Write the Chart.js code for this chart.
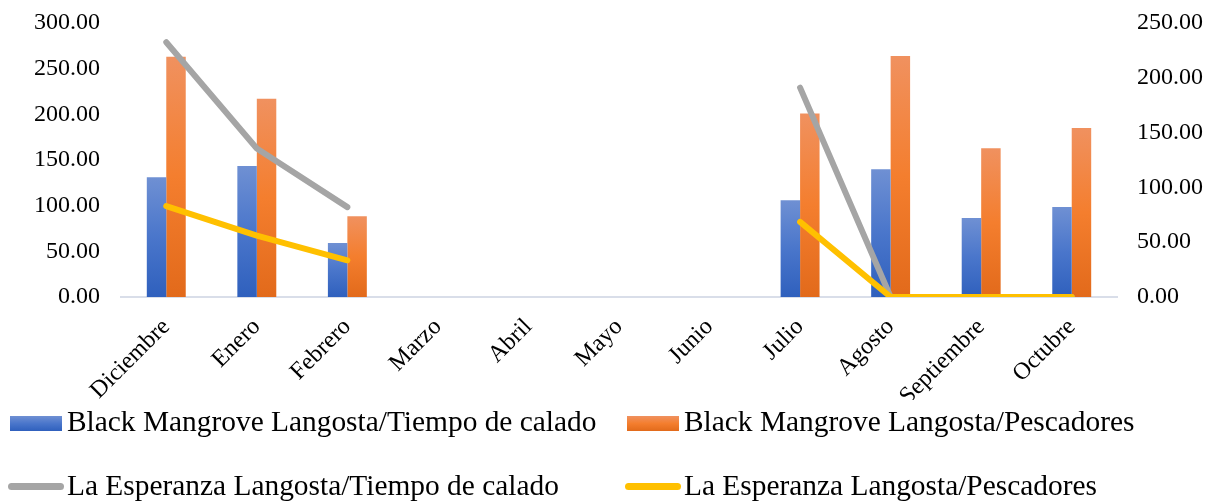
<!DOCTYPE html>
<html>
<head>
<meta charset="utf-8">
<script src="https://cdn.jsdelivr.net/npm/chart.js@4.4.0/dist/chart.umd.min.js"></script>
<style>
  html, body { margin: 0; padding: 0; background: #fff; }
  #wrap { position: relative; width: 1211px; height: 504px; }
  #chart { position: absolute; left: 0; top: 0; }
  .lg { position: absolute; font-family: "Liberation Serif", "Times New Roman", serif;
        font-size: 29.4px; line-height: 29px; color: #000; white-space: nowrap; }
  .sw { position: absolute; }
</style>
</head>
<body>
<div id="wrap">
  <canvas id="chart" width="1211" height="504"></canvas>
  <div id="legend"></div>
</div>
<script>
// categorias (meses)
const months = ['Diciembre', 'Enero', 'Febrero', 'Marzo', 'Abril', 'Mayo', 'Junio',
                'Julio', 'Agosto', 'Septiembre', 'Octubre'];

// series
const bmTiempo     = [131, 143.5, 59, null, null, null, null, 106, 140, 86.5, 98.5];
const bmPescadores = [263, 217, 88.5, null, null, null, null, 201, 264, 163, 185];
const leTiempo     = [232.5, 135.5, 82, null, null, null, null, 191, 0, 0, 0];
const lePescadores = [83, 56, 33.5, null, null, null, null, 68.5, 0, 0, 0];

const seriesNames = [
  'Black Mangrove Langosta/Tiempo de calado',
  'Black Mangrove Langosta/Pescadores',
  'La Esperanza Langosta/Tiempo de calado',
  'La Esperanza Langosta/Pescadores'
];

// ejes
const leftMax = 300, rightMax = 250, tickStep = 50;

const serif = '"Liberation Serif", "Times New Roman", serif';

// degradado por barra (claro arriba, oscuro abajo)
function barFill(c0, c1, c2) {
  return (ctx) => {
    const chart = ctx.chart;
    if (!chart.chartArea || ctx.type !== 'data' || ctx.raw == null) return c1;
    const y = chart.scales.y;
    const g = chart.ctx.createLinearGradient(0, y.getPixelForValue(ctx.raw), 0, y.getPixelForValue(0));
    g.addColorStop(0, c0);
    g.addColorStop(0.5, c1);
    g.addColorStop(1, c2);
    return g;
  };
}

// ancho fijo del eje y sin relleno extra arriba/abajo
function fixY(width) {
  return (s) => {
    s.width = width;
    s.paddingTop = 0;
    s.paddingBottom = 0;
  };
}

const blue = ['#6f90d3', '#4a76cb', '#2f60bd'];
const orange = ['#f0915f', '#f47e2e', '#e26a1b'];
const gray = '#a5a5a5';
const yellow = '#ffc000';

new Chart(document.getElementById('chart'), {
  type: 'bar',
  data: {
    labels: months,
    datasets: [
      {
        label: seriesNames[0], data: bmTiempo, yAxisID: 'y', order: 2,
        backgroundColor: barFill(...blue),
        categoryPercentage: 0.43, barPercentage: 1.0
      },
      {
        label: seriesNames[1], data: bmPescadores, yAxisID: 'y', order: 3,
        backgroundColor: barFill(...orange),
        categoryPercentage: 0.43, barPercentage: 1.0
      },
      {
        type: 'line', label: seriesNames[2], data: leTiempo, yAxisID: 'y1', order: 1,
        borderColor: gray, borderWidth: 6, pointRadius: 0, tension: 0,
        borderCapStyle: 'round', borderJoinStyle: 'round', spanGaps: false
      },
      {
        type: 'line', label: seriesNames[3], data: lePescadores, yAxisID: 'y1', order: 0,
        borderColor: yellow, borderWidth: 6, pointRadius: 0, tension: 0,
        borderCapStyle: 'round', borderJoinStyle: 'round', spanGaps: false
      }
    ]
  },
  options: {
    responsive: false,
    animation: false,
    layout: { padding: { top: 23, left: 0, right: 0, bottom: 104 } },
    plugins: { legend: { display: false }, tooltip: { enabled: false } },
    scales: {
      x: {
        grid: { display: false, drawTicks: false },
        border: { display: true, color: '#d9dee9', width: 2 },
        ticks: {
          color: '#000', font: { family: serif, size: 24 },
          minRotation: 45, maxRotation: 45, padding: 16, autoSkip: false
        },
        afterFit: (s) => { s.height = 103; }
      },
      y: {
        position: 'left', min: 0, max: leftMax,
        grid: { display: false, drawTicks: false },
        border: { display: false },
        ticks: {
          stepSize: tickStep, color: '#000', padding: 21,
          font: { family: serif, size: 24 },
          callback: (v) => Number(v).toFixed(2)
        },
        afterFit: fixY(121)
      },
      y1: {
        position: 'right', min: 0, max: rightMax,
        grid: { display: false, drawTicks: false },
        border: { display: false },
        ticks: {
          stepSize: tickStep, color: '#000', padding: 20,
          font: { family: serif, size: 24 },
          callback: (v) => Number(v).toFixed(2)
        },
        afterFit: fixY(94)
      }
    }
  }
});

// leyenda (2 x 2)
const legendItems = [
  { name: seriesNames[0], kind: 'bar', colors: blue, sx: 10, tx: 67, row: 0 },
  { name: seriesNames[1], kind: 'bar', colors: orange, sx: 627, tx: 684, row: 0 },
  { name: seriesNames[2], kind: 'line', color: gray, sx: 8, tx: 67, row: 1 },
  { name: seriesNames[3], kind: 'line', color: yellow, sx: 625, tx: 684, row: 1 }
];
const rowBase = [431, 495];
const legend = document.getElementById('legend');
legendItems.forEach((it) => {
  const sw = document.createElement('div');
  sw.className = 'sw';
  if (it.kind === 'bar') {
    sw.style.cssText = `left:${it.sx}px;top:${rowBase[it.row] - 15}px;width:52px;height:15px;` +
      `background:linear-gradient(${it.colors[0]},${it.colors[1]},${it.colors[2]});`;
  } else {
    sw.style.cssText = `left:${it.sx}px;top:${rowBase[it.row] - 12}px;width:56px;height:7px;` +
      `border-radius:4px;background:${it.color};`;
  }
  legend.appendChild(sw);
  const t = document.createElement('div');
  t.className = 'lg';
  t.textContent = it.name;
  t.style.left = it.tx + 'px';
  t.style.top = (rowBase[it.row] - 24.5) + 'px';
  legend.appendChild(t);
});
</script>
</body>
</html>
